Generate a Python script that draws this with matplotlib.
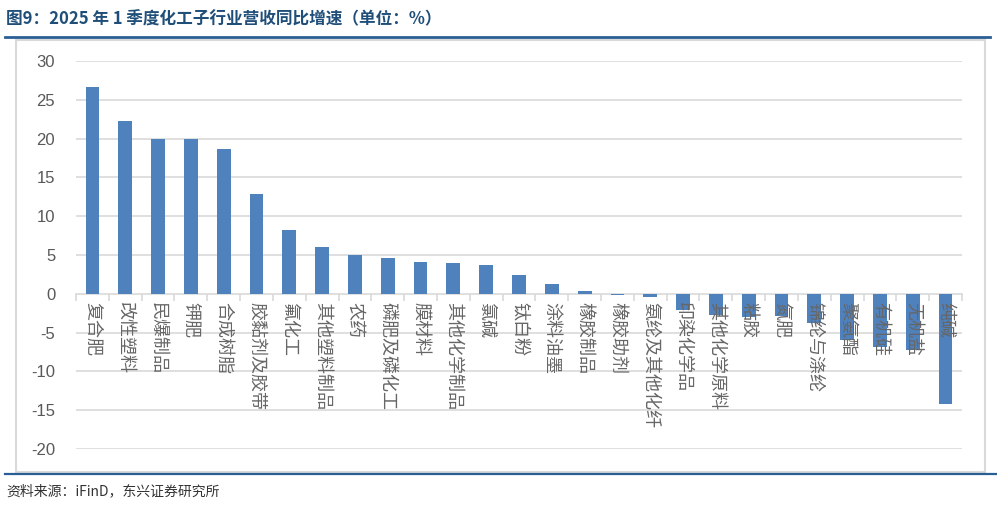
import matplotlib
matplotlib.use("Agg")
import matplotlib.pyplot as plt
from matplotlib.patches import Rectangle
from matplotlib.lines import Line2D

plt.rcParams['font.family'] = ['Noto Sans CJK SC', 'DejaVu Sans']
plt.rcParams['axes.unicode_minus'] = False

categories = ['复合肥', '改性塑料', '民爆制品', '钾肥', '合成树脂', '胶黏剂及胶带', '氟化工',
              '其他塑料制品', '农药', '磷肥及磷化工', '膜材料', '其他化学制品', '氯碱', '钛白粉',
              '涂料油墨', '橡胶制品', '橡胶助剂', '氨纶及其他化纤', '印染化学品', '其他化学原料',
              '粘胶', '氮肥', '锦纶与涤纶', '聚氨酯', '有机硅', '无机盐', '纯碱']
growth = [26.6, 22.3, 20.0, 19.9, 18.7, 12.8, 8.2, 6.0, 5.0, 4.6, 4.1, 4.0, 3.7, 2.4,
          1.2, 0.3, -0.2, -0.4, -2.1, -2.7, -3.0, -2.9, -3.7, -5.9, -6.9, -7.2, -14.2]
yticks = [30, 25, 20, 15, 10, 5, 0, -5, -10, -15, -20]

W, H = 997, 514
fig = plt.figure(figsize=(W / 100, H / 100), dpi=100)

# frame decorations
navy = '#1F4E79'
fig.add_artist(Line2D([5 / W, 990 / W], [1 - 37 / H, 1 - 37 / H], color='#2A5F96', lw=2))
fig.add_artist(Line2D([5 / W, 997 / W], [1 - 474 / H, 1 - 474 / H], color='#2A5F96', lw=1.6))
fig.add_artist(Rectangle((16 / W, 1 - 472 / H), (985 - 16) / W, (472 - 40) / H,
                         transform=fig.transFigure, fill=False, edgecolor='#D9D9D9', lw=1.5))

fig.text(6 / W, 1 - 19 / H, '图9：2025 年 1 季度化工子行业营收同比增速（单位：%）',
         fontsize=12, fontweight='bold', color=navy, va='center', ha='left')
fig.text(6 / W, 1 - 491 / H, '资料来源：iFinD，东兴证券研究所', fontsize=10,
         style='italic', color='#333333', va='center', ha='left')

ax = fig.add_axes([76 / W, 1 - 449 / H, (962 - 76) / W, (449 - 61) / H])
x = range(len(categories))
ax.bar(x, growth, width=0.42, color='#4F81BD', zorder=1)

# gridlines under the bars, tick labels over them
for v in yticks:
    if v != 0:
        ax.axhline(v, color='#D9D9D9', lw=1.2, zorder=0)
ax.set_axisbelow(False)

ax.set_ylim(-20, 30)
ax.set_xlim(-0.5, len(categories) - 0.5)
ax.set_yticks(yticks)
ax.set_yticklabels([str(v) for v in yticks], fontsize=12, color='#595959',
                   family=['Liberation Sans', 'DejaVu Sans'])
ax.tick_params(axis='y', length=0, pad=15)

for s in ['top', 'right', 'left']:
    ax.spines[s].set_visible(False)
ax.spines['bottom'].set_position(('data', 0))
ax.spines['bottom'].set_color('#D9D9D9')
ax.spines['bottom'].set_linewidth(1.2)
ax.spines['bottom'].set_zorder(0.5)

ax.set_xticks(list(x))
ax.set_xticklabels(categories, rotation=-90, fontsize=13, color='#666666',
                   va='top', ha='center')
ax.tick_params(axis='x', length=0, pad=6)
ax.set_xticks([i - 0.5 for i in range(len(categories) + 1)], minor=True)
ax.tick_params(axis='x', which='minor', length=5, color='#D9D9D9', width=1.2)

fig.savefig('out.png', dpi=100)
